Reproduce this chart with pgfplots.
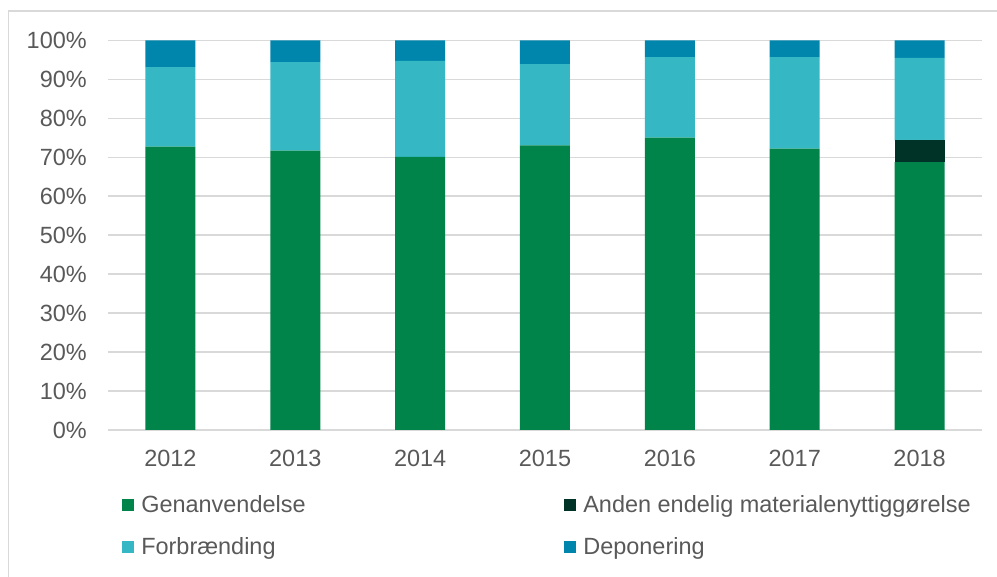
\documentclass[border=0pt]{standalone}
\usepackage{fontspec}
\setmainfont{Liberation Sans}
\usepackage{pgfplots}
\pgfplotsset{compat=1.18}
\definecolor{cGen}{HTML}{00844A}
\definecolor{cAnd}{HTML}{003327}
\definecolor{cFor}{HTML}{35B8C4}
\definecolor{cDep}{HTML}{0086AD}
\definecolor{txt}{HTML}{595959}
\definecolor{grd}{HTML}{D9D9D9}
\newcommand\ff{\fontsize{17.6pt}{21pt}\selectfont}
\begin{document}
\begin{tikzpicture}
\useasboundingbox (0pt,0pt) rectangle (747.75pt,432.75pt);
\draw[grd, line width=1.1pt] (6.4pt,0pt) -- (6.4pt,424.5pt) -- (747.75pt,424.5pt);
\begin{axis}[
  at={(81pt,110.25pt)}, anchor=south west,
  scale only axis, width=655.5pt, height=292.3pt,
  ybar stacked, bar width=37.5pt,
  xmin=-0.5, xmax=6.5, ymin=0, ymax=100,
  xtick={0,1,2,3,4,5,6}, xticklabels={2012,2013,2014,2015,2016,2017,2018},
  ytick={0,10,...,100},
  yticklabels={0\%,10\%,20\%,30\%,40\%,50\%,60\%,70\%,80\%,90\%,100\%},
  axis lines*=left,
  y axis line style={draw=none},
  x axis line style={draw=grd, line width=1pt},
  major tick length=0pt,
  ymajorgrids, major grid style={draw=grd, line width=1pt},
  tick label style={font=\ff, text=txt, inner sep=0pt},
  xticklabel style={anchor=north, yshift=-15pt},
  yticklabel style={anchor=east, xshift=-15.75pt},
  legend style={at={(rel axis cs:0,0)}, anchor=north west, xshift=10.5pt, yshift=-49pt,
    draw=none, fill=none, font=\ff, text=txt, inner sep=0pt,
    nodes={inner sep=0pt}, column sep=5.25pt, row sep=17.5pt,
    /tikz/column 2/.style={column sep=194pt}},
  legend cell align=left,
  legend columns=2,
  legend image code/.code={\fill[#1] (0pt,-4.5pt) rectangle (9pt,4.5pt);},
]
\addplot[fill=cGen, draw=none] coordinates {(0,72.7) (1,71.7) (2,70.1) (3,73.0) (4,75.0) (5,72.2) (6,68.7)};
\addplot[fill=cAnd, draw=none] coordinates {(0,0) (1,0) (2,0) (3,0) (4,0) (5,0) (6,5.6)};
\addplot[fill=cFor, draw=none] coordinates {(0,20.4) (1,22.7) (2,24.6) (3,20.9) (4,20.7) (5,23.5) (6,21.15)};
\addplot[fill=cDep, draw=none] coordinates {(0,6.9) (1,5.6) (2,5.3) (3,6.1) (4,4.3) (5,4.3) (6,4.55)};
\legend{Genanvendelse, Anden endelig materialenyttiggørelse, Forbrænding, Deponering}
\end{axis}
\end{tikzpicture}
\end{document}
